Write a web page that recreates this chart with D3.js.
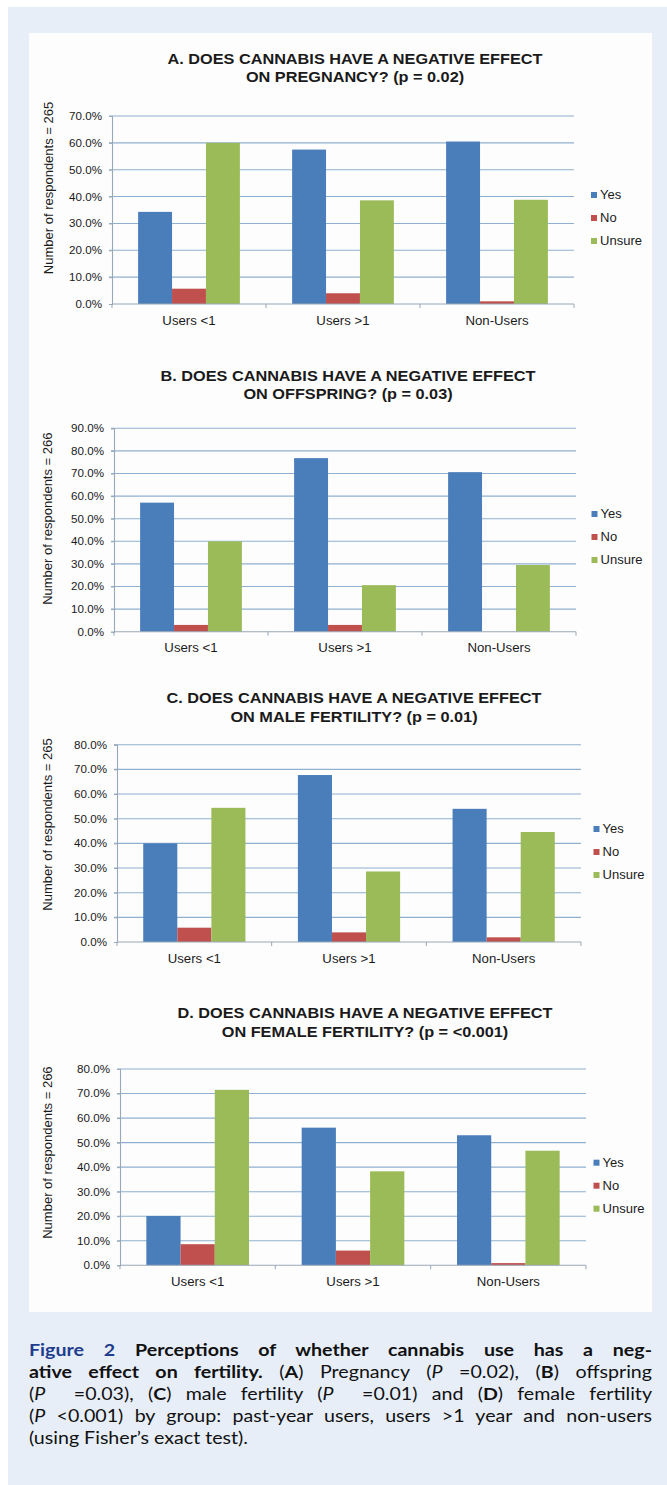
<!DOCTYPE html>
<html><head><meta charset="utf-8">
<script src="https://cdn.jsdelivr.net/npm/d3@7"></script>
<style>
html,body{margin:0;padding:0;background:#fff;}
#wrap{position:relative;width:667px;height:1485px;overflow:hidden;}
#wrap svg{position:absolute;left:0;top:0;}
#cap{position:absolute;left:29px;top:1339px;font-family:Lato,"Open Sans",sans-serif;font-size:17px;line-height:22px;color:#111;transform-origin:0 0;}
#cap .l{white-space:nowrap;}
#cap .l span.in{display:inline-block;}
#cap b{font-weight:700;}
#cap .fig{color:#1f3d8c;font-weight:700;}
</style></head>
<body><div id="wrap"></div>
<script>
// ---------- data ----------
const categories = ["Users <1", "Users >1", "Non-Users"];
const seriesNames = ["Yes", "No", "Unsure"];
const seriesColors = ["#4a7ebb", "#c0504d", "#9bbb59"];

const yesA = [34.3, 57.5, 60.5];
const noA = [5.7, 4.0, 1.0];
const unsureA = [60.0, 38.6, 38.8];
const ticksA = [0, 10, 20, 30, 40, 50, 60, 70];
const titleA = ["A. DOES CANNABIS HAVE A NEGATIVE EFFECT", "ON PREGNANCY? (p = 0.02)"];
const yTitleA = "Number of respondents = 265";

const yesB = [57.1, 76.8, 70.6];
const noB = [3.0, 3.0, 0.0];
const unsureB = [40.0, 20.6, 29.5];
const ticksB = [0, 10, 20, 30, 40, 50, 60, 70, 80, 90];
const titleB = ["B. DOES CANNABIS HAVE A NEGATIVE EFFECT", "ON OFFSPRING? (p = 0.03)"];
const yTitleB = "Number of respondents = 266";

const yesC = [40.0, 67.7, 54.0];
const noC = [5.8, 3.9, 1.9];
const unsureC = [54.4, 28.6, 44.6];
const ticksC = [0, 10, 20, 30, 40, 50, 60, 70, 80];
const titleC = ["C. DOES CANNABIS HAVE A NEGATIVE EFFECT", "ON MALE FERTILITY? (p = 0.01)"];
const yTitleC = "Number of respondents = 265";

const yesD = [20.1, 56.1, 53.0];
const noD = [8.6, 6.0, 0.9];
const unsureD = [71.5, 38.3, 46.7];
const ticksD = [0, 10, 20, 30, 40, 50, 60, 70, 80];
const titleD = ["D. DOES CANNABIS HAVE A NEGATIVE EFFECT", "ON FEMALE FERTILITY? (p = <0.001)"];
const yTitleD = "Number of respondents = 266";

// ---------- layout ----------
const panels = [
  {series:[yesA,noA,unsureA], ticks:ticksA, title:titleA, ytitle:yTitleA,
   L:112, R:574, T:116, B:304, tx:355, ty:63.5, lx:591, ly:195, ytx:52.5, yty:188},
  {series:[yesB,noB,unsureB], ticks:ticksB, title:titleB, ytitle:yTitleB,
   L:114, R:576, T:428.3, B:631.7, tx:348, ty:380.5, lx:591.5, ly:514, ytx:52, yty:518.7},
  {series:[yesC,noC,unsureC], ticks:ticksC, title:titleC, ytitle:yTitleC,
   L:117, R:581, T:744.7, B:942, tx:354, ty:703, lx:593.5, ly:829, ytx:52, yty:824.5},
  {series:[yesD,noD,unsureD], ticks:ticksD, title:titleD, ytitle:yTitleD,
   L:120, R:586, T:1069, B:1265.3, tx:365, ty:1018.4, lx:593.5, ly:1162.7, ytx:52, yty:1152.6}
];
const SX = 1.085; // horizontal stretch of the original chart text
const FONT = "'Liberation Sans', Arial, sans-serif";

const svg = d3.select("#wrap").append("svg").attr("width", 667).attr("height", 1485);
svg.append("rect").attr("x", 8).attr("y", 7).attr("width", 659).attr("height", 1478).attr("fill", "#e7eef8");
svg.append("rect").attr("x", 29).attr("y", 33).attr("width", 623).attr("height", 1279).attr("fill", "#fdfdfe");

function stext(g, x, y, s, size, weight, anchor) {
  return g.append("text")
    .attr("transform", `translate(${x},${y}) scale(${SX},1)`)
    .attr("font-family", FONT).attr("font-size", size)
    .attr("font-weight", weight || "normal")
    .attr("text-anchor", anchor || "start")
    .attr("fill", "#1a1a1a").text(s);
}

panels.forEach(p => {
  const g = svg.append("g");
  const maxT = p.ticks[p.ticks.length - 1];
  const y = d3.scaleLinear().domain([0, maxT]).range([p.B, p.T]);
  const x0 = d3.scaleBand().domain(categories).range([p.L, p.R]).paddingInner(0).paddingOuter(0);
  const x1 = d3.scaleBand().domain(seriesNames).range([0, x0.bandwidth()]).paddingInner(0).paddingOuter(0.77);

  // title
  p.title.forEach((t, i) => stext(g, p.tx, p.ty + i * 18.7, t, 15, "bold", "middle"));

  // gridlines
  g.append("g").selectAll("line").data(p.ticks.filter(t => t > 0)).join("line")
    .attr("x1", p.L - 3).attr("x2", p.R)
    .attr("y1", d => y(d)).attr("y2", d => y(d))
    .attr("stroke", "#8fb0ce").attr("stroke-width", 1.1);

  // y axis
  const ya = g.append("g").attr("transform", `translate(${p.L},0)`)
    .call(d3.axisLeft(y).tickValues(p.ticks).tickSize(3).tickPadding(7)
      .tickFormat(d => d3.format(".1f")(d) + "%"));
  ya.select(".domain").attr("stroke", "#9aa7b6").attr("stroke-width", 1.1);
  ya.selectAll(".tick line").attr("stroke", "#9aa7b6");
  ya.selectAll(".tick text").attr("font-family", FONT).attr("font-size", 10.7)
    .attr("fill", "#1a1a1a").attr("transform", `scale(${SX},1)`).attr("x", -10 / SX);

  // bars
  const cg = g.append("g").selectAll("g").data(categories).join("g")
    .attr("transform", d => `translate(${x0(d)},0)`);
  cg.selectAll("rect").data((c, ci) => seriesNames.map((s, si) => ({s, si, v: p.series[si][ci]})))
    .join("rect")
    .attr("x", d => x1(d.s)).attr("width", x1.bandwidth())
    .attr("y", d => y(d.v)).attr("height", d => p.B - y(d.v))
    .attr("fill", d => seriesColors[d.si]);

  // x axis
  const xa = g.append("g").attr("transform", `translate(0,${p.B})`);
  xa.append("line").attr("x1", p.L).attr("x2", p.R).attr("stroke", "#9aa7b6").attr("stroke-width", 1.1);
  const bounds = categories.map(c => x0(c)).concat([p.R]);
  xa.selectAll("line.tk").data(bounds).join("line").attr("class", "tk")
    .attr("x1", d => d).attr("x2", d => d).attr("y1", 0).attr("y2", 4)
    .attr("stroke", "#9aa7b6");
  categories.forEach(c => stext(xa, x0(c) + x0.bandwidth() / 2, 20.5, c, 12.2, "normal", "middle"));

  // y title
  g.append("text").attr("transform", `translate(${p.ytx},${p.yty}) rotate(-90)`)
    .attr("font-family", FONT).attr("font-size", 13).attr("text-anchor", "middle")
    .attr("fill", "#1a1a1a").text(p.ytitle);

  // legend
  seriesNames.forEach((s, i) => {
    const ly = p.ly + i * 23;
    g.append("rect").attr("x", p.lx).attr("y", ly - 3).attr("width", 6).attr("height", 6).attr("fill", seriesColors[i]);
    stext(g, p.lx + 9, ly + 4.2, s, 12, "normal", "start");
  });
});

// ---------- caption ----------
const capLines = [
  '<span class="fig">Figure 2</span> <b>Perceptions of whether cannabis use has a neg-</b>',
  '<b>ative effect on fertility.</b> (<b>A</b>) Pregnancy (<i>P</i> =0.02), (<b>B</b>) offspring',
  '(<i>P</i> \u00a0=0.03), (<b>C</b>) male fertility (<i>P</i> \u00a0=0.01) and (<b>D</b>) female fertility',
  '(<i>P</i> &lt;0.001) by group: past-year users, users &gt;1 year and non-users',
  '(using Fisher\u2019s exact test).'
];
const CAP_W = 623, LAST_W = 219;
const cap = d3.select("#wrap").append("div").attr("id", "cap");
const inners = capLines.map(h => {
  const d = cap.append("div").attr("class", "l");
  return {d, inner: d.append("span").attr("class", "in").html(h)};
});
// horizontal scale so the (unjustified) last line matches the original width
const lastW = inners[inners.length - 1].inner.node().getBoundingClientRect().width;
const s = LAST_W / lastW;
cap.style("transform", `scaleX(${s})`).style("width", (CAP_W / s) + "px");
inners.forEach((o, i) => {
  if (i === inners.length - 1) return;
  const w = o.inner.node().getBoundingClientRect().width / s;
  const n = (o.inner.node().textContent.match(/[ \u00a0]/g) || []).length;
  if (n > 0) o.d.style("word-spacing", ((CAP_W / s - w) / n) + "px");
});
</script></body></html>
